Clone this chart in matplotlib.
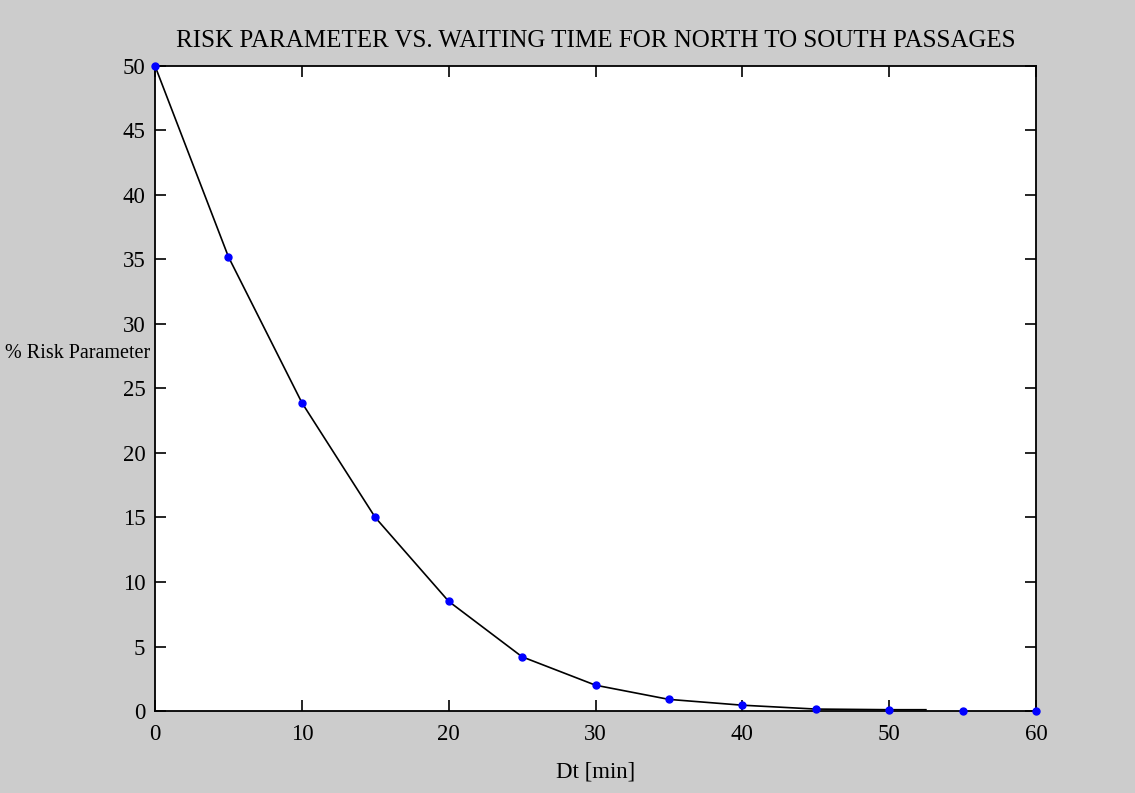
import matplotlib
matplotlib.use("Agg")
import matplotlib.pyplot as plt

# Data
dt_min = [0, 5, 10, 15, 20, 25, 30, 35, 40, 45, 50, 55, 60]
risk_pct = [50.0, 35.2, 23.9, 15.0, 8.5, 4.2, 2.0, 0.9, 0.45, 0.15, 0.1, 0.0, 0.0]
# the black curve ends just past 50 min
line_x = [0, 5, 10, 15, 20, 25, 30, 35, 40, 45, 50, 52.5]
line_y = [50.0, 35.2, 23.9, 15.0, 8.5, 4.2, 2.0, 0.9, 0.45, 0.15, 0.1, 0.1]

x_ticks = [0, 10, 20, 30, 40, 50, 60]
y_ticks = [0, 5, 10, 15, 20, 25, 30, 35, 40, 45, 50]

plt.rcParams['font.family'] = ['Liberation Serif', 'DejaVu Serif']

fig = plt.figure(figsize=(11.35, 7.93), dpi=100, facecolor='#cccccc')
ax = fig.add_axes([0.1366, 0.1034, 0.9128 - 0.1366, 0.9168 - 0.1034])
ax.set_facecolor('white')

ax.plot(line_x, line_y, color='black', linewidth=1.2, zorder=2)
ax.plot(dt_min, risk_pct, linestyle='none', marker='o', markersize=5,
        color='blue', markeredgecolor='blue', zorder=3, clip_on=False)

ax.set_xlim(0, 60)
ax.set_ylim(0, 50)
ax.set_xticks(x_ticks)
ax.set_yticks(y_ticks)
ax.tick_params(direction='in', length=8, width=1.2, top=True, right=True,
               labelsize=16.5, colors='black')
ax.tick_params(axis='x', pad=9)
ax.tick_params(axis='y', pad=7)
for s in ax.spines.values():
    s.set_linewidth(1.3)
    s.set_color('black')

ax.set_title('RISK PARAMETER VS. WAITING TIME FOR NORTH TO SOUTH PASSAGES',
             fontsize=18, pad=14)
ax.set_xlabel('Dt [min]', fontsize=16.5, labelpad=12)
ax.set_ylabel('% Risk Parameter', fontsize=14.5, rotation=0, ha='right',
              va='center', labelpad=8)
ax.yaxis.set_label_coords(-0.005, 0.555)

fig.savefig('out.png', dpi=100, facecolor=fig.get_facecolor())
